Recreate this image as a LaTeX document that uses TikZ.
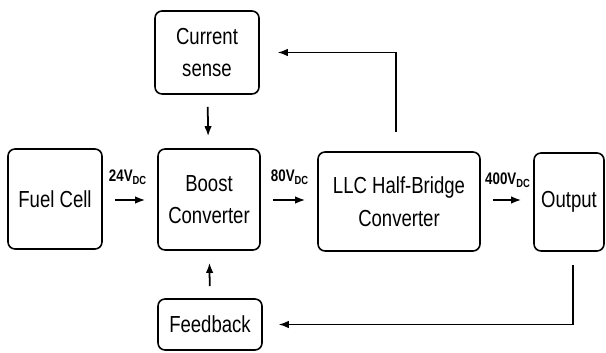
\documentclass[tikz,border=0pt]{standalone}
\usepackage{fontspec}
\setmainfont{Liberation Sans}[FakeStretch=0.8]
\usepackage{tikz}
\usetikzlibrary{arrows.meta, positioning, calc}

\begin{document}
\begin{tikzpicture}[
    block/.style={rectangle, rounded corners=4pt, draw=black, line width=0.9pt, align=center, font=\fontsize{13.2}{18.5}\selectfont, inner sep=0pt},
    flow/.style={-{Latex[length=2mm, width=1.5mm]}, line width=1pt, shorten <=0.24cm, shorten >=0.24cm},
    volt/.style={font=\fontsize{9.5}{11}\selectfont\bfseries},
]
\useasboundingbox (0,0) rectangle (12.12,7.04);

% Power path
\node[block, minimum width=1.88cm, minimum height=2.0cm] (fuel) at (1.10,3.06) {Fuel Cell};
\node[block, minimum width=2.04cm, minimum height=2.02cm] (boost) at (4.18,3.05) {Boost\\Converter};
\node[block, minimum width=3.24cm, minimum height=1.98cm] (llc) at (7.98,3.01) {LLC Half-Bridge\\Converter};
\node[block, minimum width=1.40cm, minimum height=1.96cm] (out) at (11.38,3.00) {Output};

% Control blocks
\node[block, minimum width=2.08cm, minimum height=1.66cm] (sense) at (4.14,5.99) {Current\\sense};
\node[block, minimum width=2.08cm, minimum height=1.02cm] (fb) at (4.20,0.55) {Feedback};

\draw[flow] (fuel.east |- 0,3.04) -- (boost.west |- 0,3.04);
\draw[flow] (boost.east |- 0,3.04) -- (llc.west |- 0,3.04);
\draw[flow] (llc.east |- 0,3.04) -- (out.west |- 0,3.04);

\node[volt] (v24) at (2.56,3.50) {24V\textsubscript{DC}};
\node[volt] (v80) at (5.80,3.50) {80V\textsubscript{DC}};
\node[volt] (v400) at (10.16,3.44) {400V\textsubscript{DC}};

\draw[flow] (sense) -- (boost);
\draw[flow] (fb) -- (boost);

% Loops back to the control blocks
\draw[flow, line width=0.8pt, shorten <=0.38cm, shorten >=0.36cm] ([xshift=-0.06cm]llc.north) |- (sense.east);
\draw[flow, line width=0.8pt, shorten <=0.26cm, shorten >=0.32cm] ([xshift=0.08cm]out.south) |- (fb.east);

\end{tikzpicture}
\end{document}
